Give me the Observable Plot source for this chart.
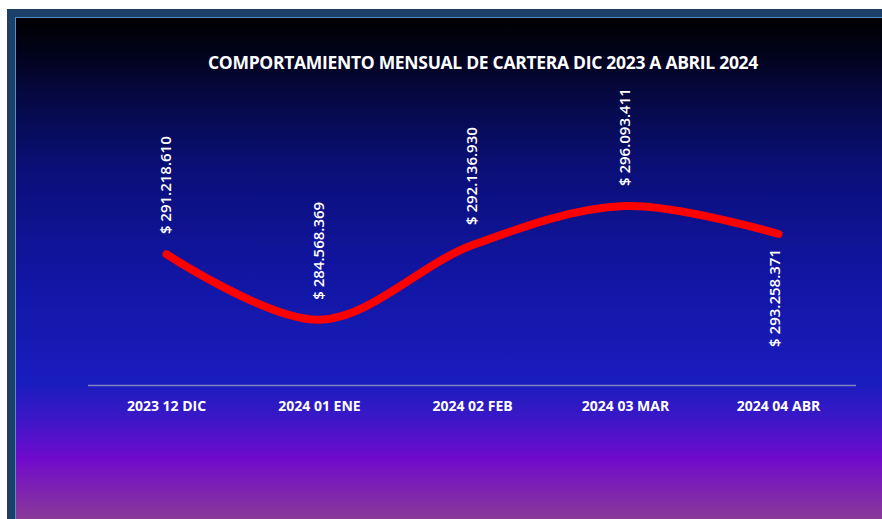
<!DOCTYPE html>
<html>
<head>
<meta charset="utf-8">
<script src="https://cdn.jsdelivr.net/npm/d3@7"></script>
<script src="https://cdn.jsdelivr.net/npm/@observablehq/plot@0.6"></script>
<style>
  html, body { margin: 0; padding: 0; background: #ffffff; width: 882px; height: 519px; overflow: hidden; }
  #frame { position: absolute; left: 7px; top: 9px; right: 0; bottom: 0; background: #1d4068; }
  #inner { position: absolute; left: 8px; top: 8px; width: 867px; height: 501px; overflow: hidden;
    border-top: 1px solid #4f8fc4; border-left: 1px solid #4f8fc4; border-bottom: 1px solid #3f7fb8;
    background: linear-gradient(to bottom, #000000 0%, #02031e 8%, #050840 15%, #0a0f78 30%, #1115a0 50%, #1a1dbe 73%, #3c17c8 80%, #700acc 88%, #8a3a98 100%); }
  #title { position: absolute; top: 32px; left: 467px; transform: translateX(-50%); white-space: nowrap;
    color: #ffffff; font-family: "Open Sans", sans-serif; font-weight: bold; font-size: 17.5px; letter-spacing: -0.3px; }
  #chart { position: absolute; left: 0; top: 0; }
</style>
</head>
<body>
<div id="frame"><div id="inner"><div id="title">COMPORTAMIENTO MENSUAL DE CARTERA DIC 2023 A ABRIL 2024</div><div id="chart"></div></div></div>
<script>
const categories = ["2023 12 DIC", "2024 01 ENE", "2024 02 FEB", "2024 03 MAR", "2024 04 ABR"];
const values = [291218610, 284568369, 292136930, 296093411, 293258371];

const data = categories.map((c, i) => ({cat: categories[i], value: values[i], i}));
const fmt = v => "$ " + d3.format(",")(v).replace(/,/g, ".");
const last = data.length - 1;

const chart = Plot.plot({
  width: 867,
  height: 501,
  marginLeft: 72,
  marginRight: 27,
  marginTop: 149,
  marginBottom: 134,
  style: {background: "transparent", color: "#ffffff", fontFamily: "Open Sans, sans-serif", overflow: "visible"},
  x: {type: "point", domain: categories, padding: 0.5, label: null},
  y: {domain: [277900000, 300000000], axis: null},
  marks: [
    Plot.ruleY([277900000], {stroke: "#8185bf", strokeWidth: 1.5}),
    Plot.axisX({tickSize: 0, tickPadding: 16, fontSize: 14, fontWeight: "bold", fill: "#ffffff", label: null}),
    Plot.line(data, {x: "cat", y: "value", stroke: "#ff0000", strokeWidth: 8, curve: "catmull-rom", strokeLinecap: "round"}),
    Plot.text(data.filter(d => d.i !== last), {x: "cat", y: "value", text: d => fmt(d.value), rotate: -90, textAnchor: "start", dy: -20, fill: "#ffffff", fontSize: 15, fontWeight: 600}),
    Plot.text(data.filter(d => d.i === last), {x: "cat", y: "value", text: d => fmt(d.value), rotate: -90, textAnchor: "end", dy: 15, dx: -3, fill: "#ffffff", fontSize: 15, fontWeight: 600})
  ]
});
document.getElementById("chart").appendChild(chart);
</script>
</body>
</html>
